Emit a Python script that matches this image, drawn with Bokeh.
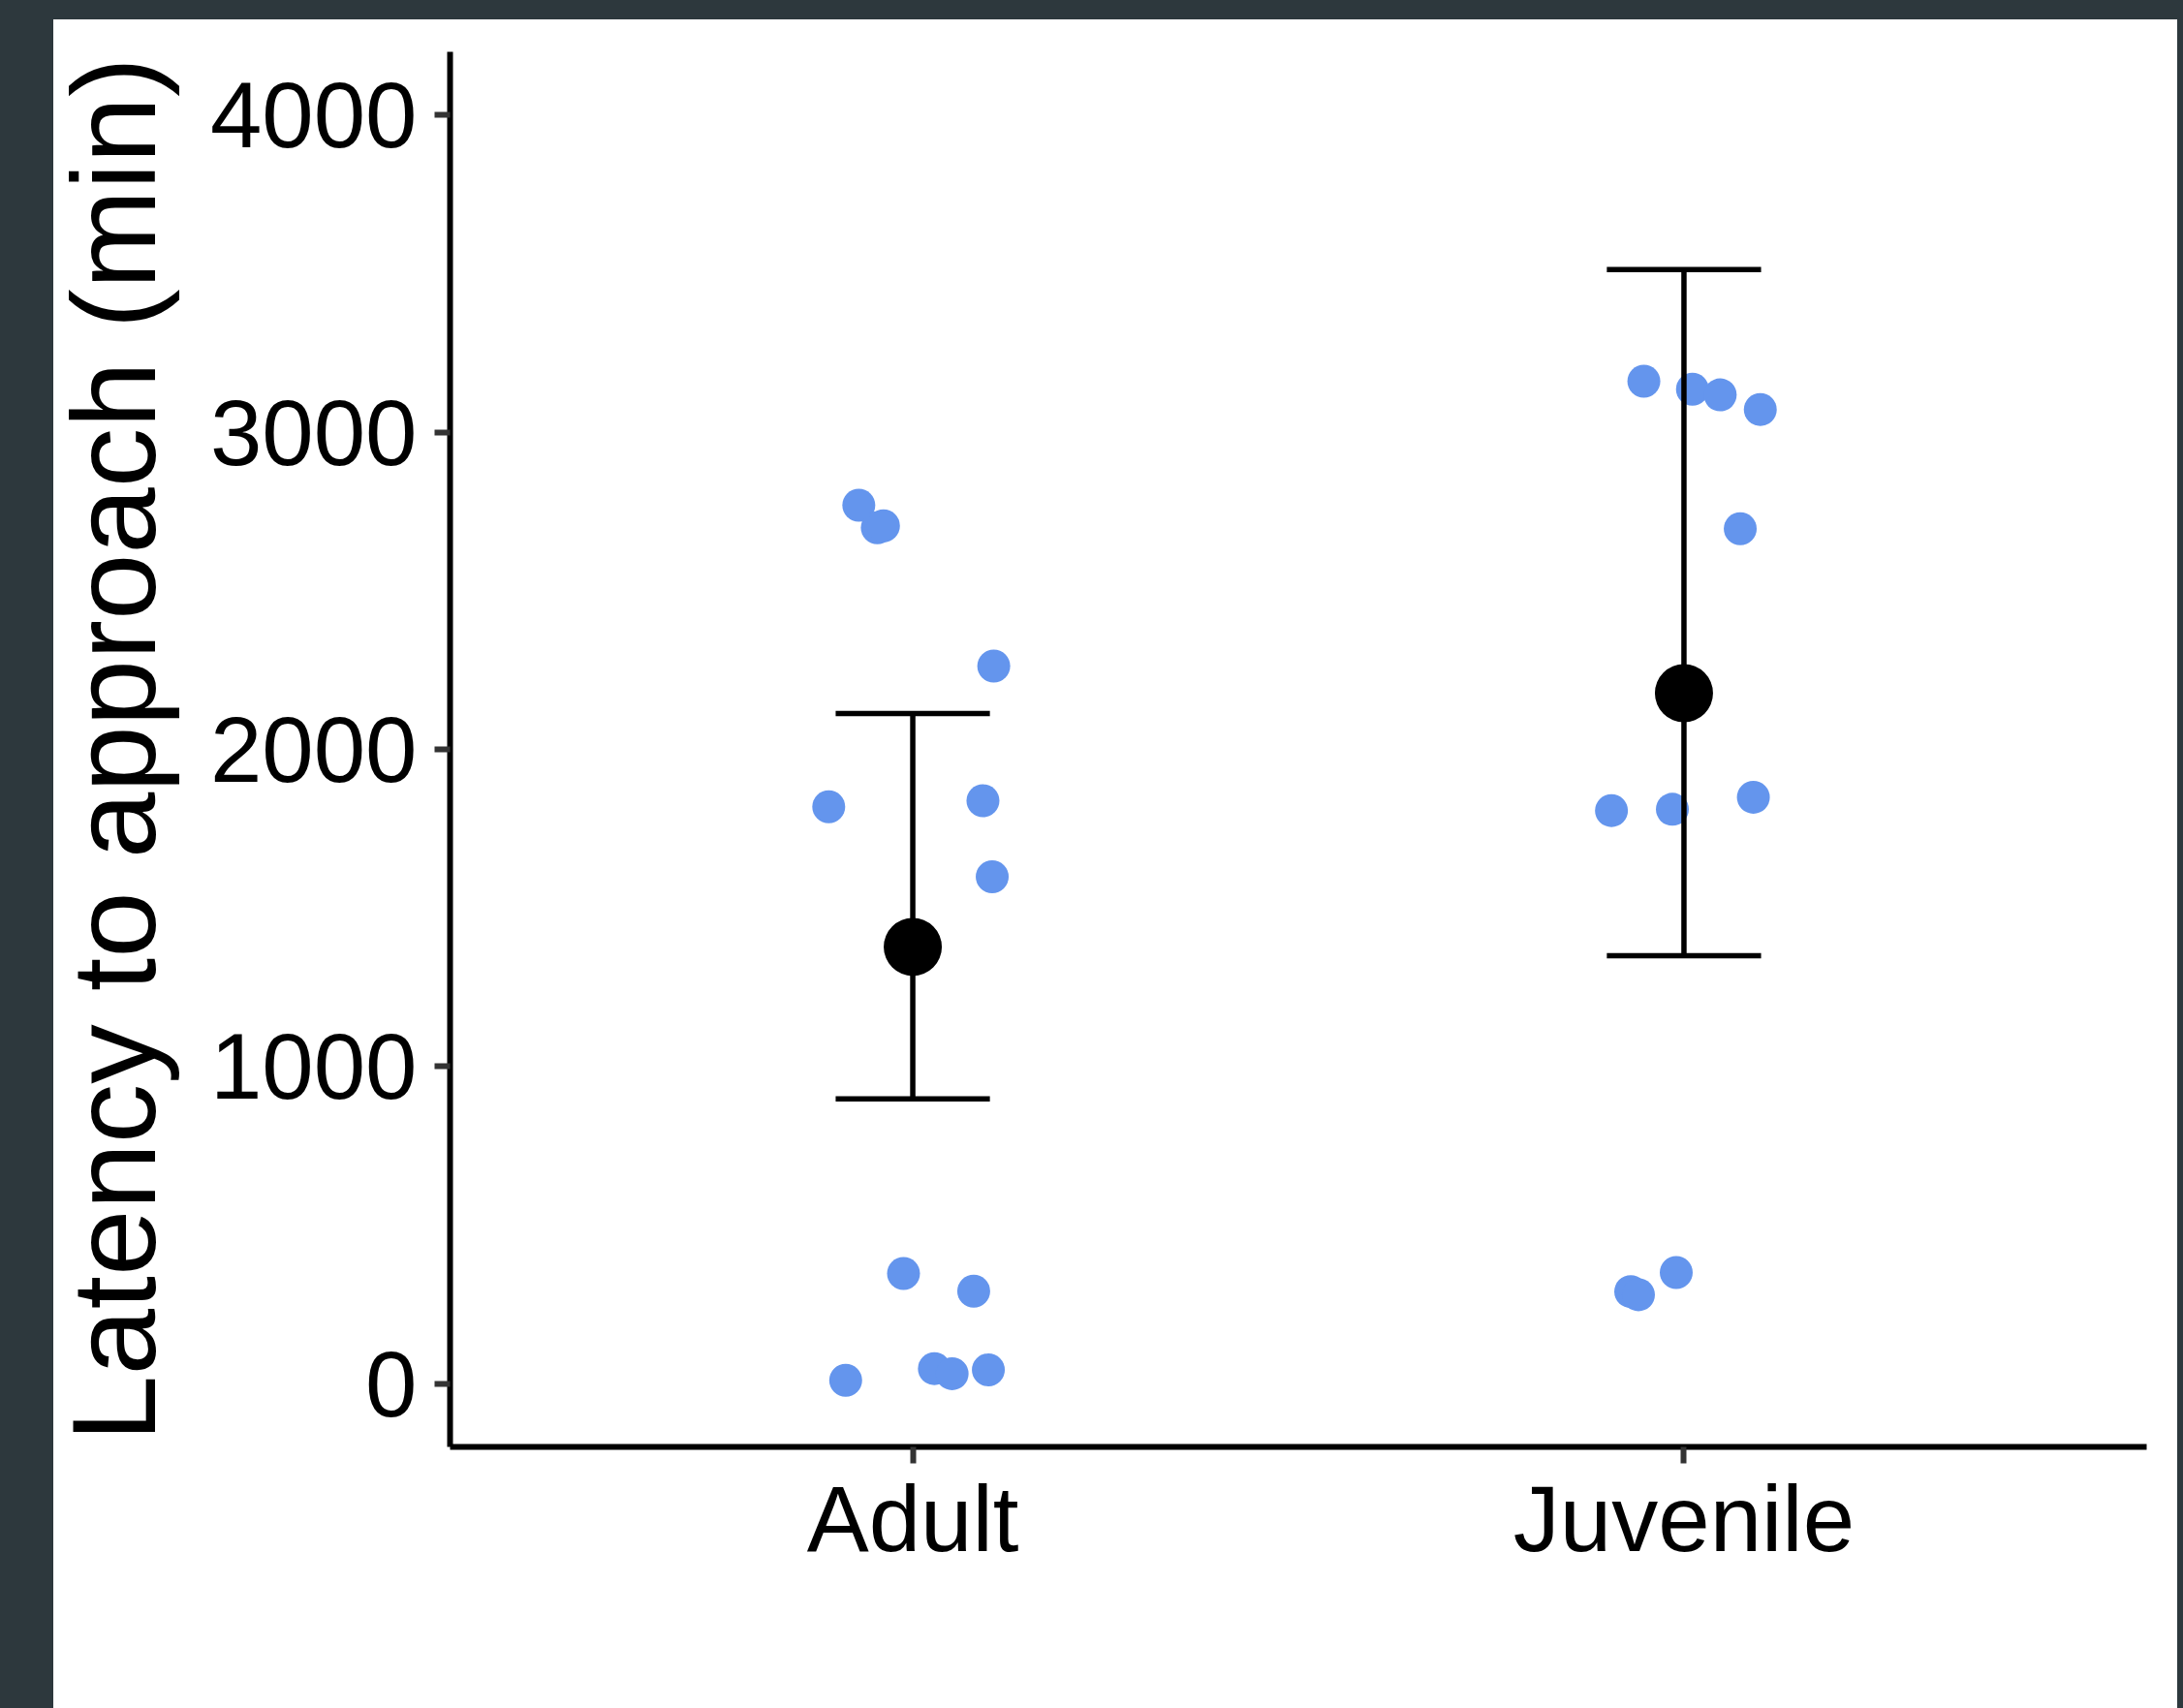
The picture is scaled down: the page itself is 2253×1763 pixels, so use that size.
from bokeh.plotting import figure
from bokeh.models import ColumnDataSource, FixedTicker, Range1d
from bokeh.layouts import column
from bokeh.embed import file_html
from bokeh.resources import INLINE

# ---- data ----
categories = ["Adult", "Juvenile"]

adult_values = [2770, 2699, 2705, 2263, 1819, 1838, 1598, 347, 291, 10, 47, 31, 43]
adult_jitter = [-0.070, -0.046, -0.038, 0.105, -0.109, 0.091, 0.103, -0.012, 0.079, -0.087, 0.028, 0.051, 0.098]

juvenile_values = [3161, 3136, 3118, 3072, 2696, 1807, 1811, 1849, 290, 280, 350]
juvenile_jitter = [-0.052, 0.011, 0.047, 0.099, 0.073, -0.094, -0.015, 0.090, -0.069, -0.059, -0.010]

group_means = [1377, 2177]
group_upper = [2113, 3513]
group_lower = [898, 1349]

y_ticks = [0, 1000, 2000, 3000, 4000]
y_title = "Latency to approach (min)"

# ---- styling constants ----
FONT = "Liberation Sans"
POINT_COLOR = "#6495ED"
DARK = "#2d383d"
CAP_HALF = 0.1

xs, ys = [], []
for i, (vals, jit) in enumerate([(adult_values, adult_jitter), (juvenile_values, juvenile_jitter)]):
    for v, j in zip(vals, jit):
        xs.append(i + 1 + j)
        ys.append(v)
pts = ColumnDataSource(dict(x=xs, y=ys))

pos = [i + 1 for i in range(len(categories))]
summ = ColumnDataSource(dict(
    x=pos, mean=group_means, lo=group_lower, hi=group_upper,
    xl=[p - CAP_HALF for p in pos], xr=[p + CAP_HALF for p in pos],
))

p = figure(width=2203, height=1743, output_backend="svg", toolbar_location=None,
           x_range=Range1d(0.4, 2.6), y_range=Range1d(-200, 4200),
           min_border_left=420, min_border_right=32, min_border_top=33, min_border_bottom=270)
p.margin = (20, 6, 0, 44)
p.styles = {"background": f"linear-gradient(to right, {DARK} 0px, {DARK} 11px, white 11px, white 100%)"}
p.background_fill_color = "white"
p.border_fill_color = None
p.outline_line_color = None
p.grid.visible = False

p.scatter("x", "y", source=pts, size=34, fill_color=POINT_COLOR, line_color=None)

p.segment(x0="x", y0="lo", x1="x", y1="hi", source=summ, line_color="black", line_width=5.5)
p.segment(x0="xl", y0="hi", x1="xr", y1="hi", source=summ, line_color="black", line_width=5.5)
p.segment(x0="xl", y0="lo", x1="xr", y1="lo", source=summ, line_color="black", line_width=5.5)
p.scatter("x", "mean", source=summ, size=60, fill_color="black", line_color=None)

p.xaxis.ticker = FixedTicker(ticks=pos)
p.xaxis.major_label_overrides = {p_: c for p_, c in zip(pos, categories)}
p.yaxis.ticker = FixedTicker(ticks=y_ticks)
p.xaxis.minor_tick_line_color = None
p.yaxis.minor_tick_line_color = None

for ax in (p.xaxis, p.yaxis):
    ax.axis_line_color = "black"
    ax.axis_line_width = 6
    ax.major_tick_line_color = "#333333"
    ax.major_tick_line_width = 6
    ax.major_tick_in = 0
    ax.major_label_text_font = FONT
    ax.major_label_text_font_size = "96px"
    ax.major_label_text_color = "black"

p.yaxis.major_tick_out = 16
p.xaxis.major_tick_out = 17
p.yaxis.major_label_standoff = 18
p.xaxis.major_label_standoff = 3

p.yaxis.axis_label = y_title
p.yaxis.axis_label_text_font = FONT
p.yaxis.axis_label_text_font_size = "123px"
p.yaxis.axis_label_text_font_style = "normal"
p.yaxis.axis_label_text_color = "black"
p.yaxis.axis_label_standoff = 28

root = column(p, styles={"background-color": DARK})

open("out.html", "w").write(file_html(root, INLINE))
